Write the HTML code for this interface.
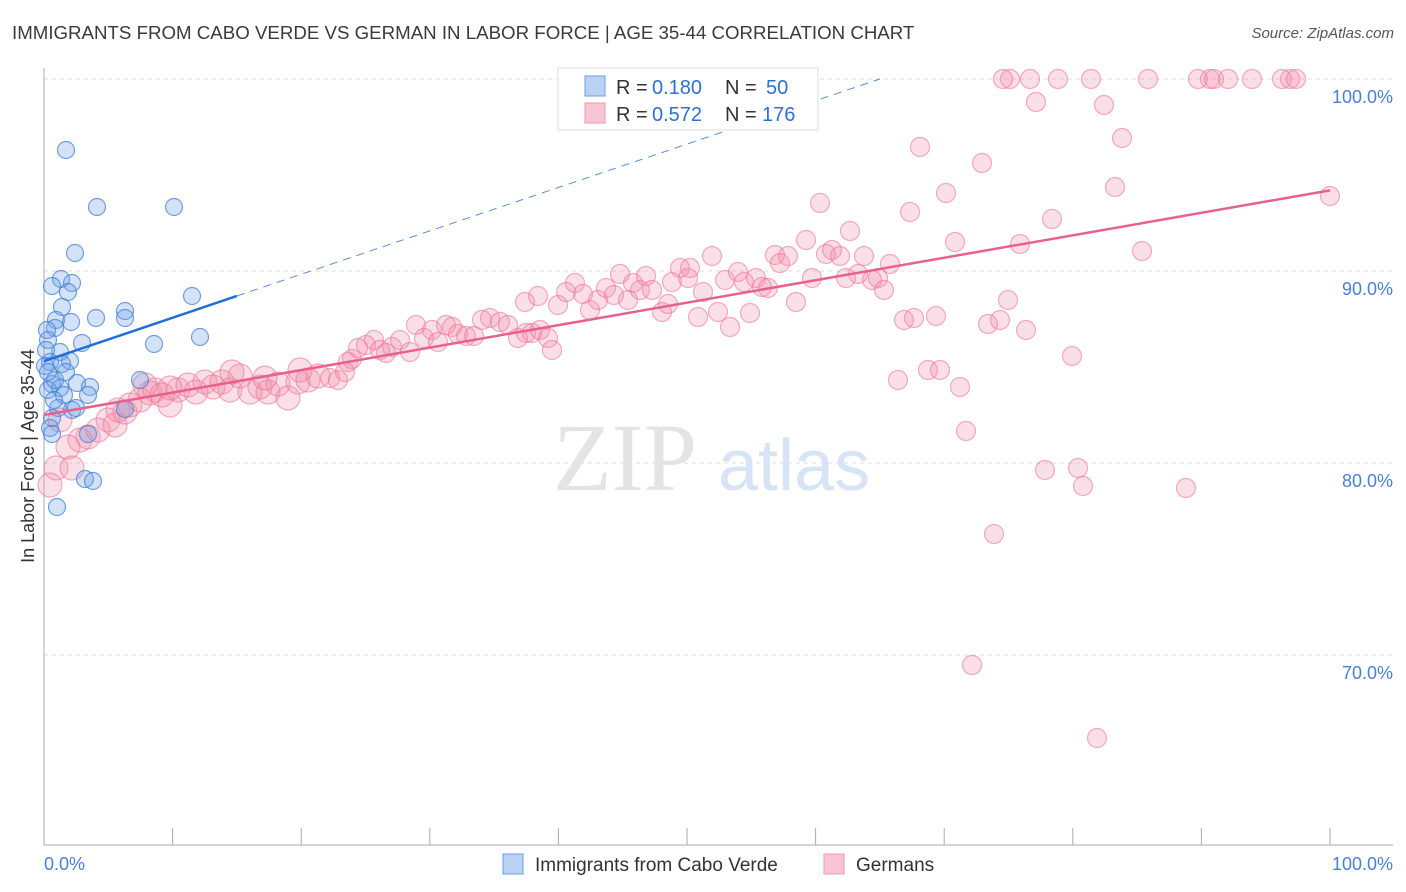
<!DOCTYPE html>
<html><head><meta charset="utf-8"><style>
body{margin:0;background:#fff;font-family:"Liberation Sans",sans-serif}
#wrap{position:relative;width:1406px;height:892px;overflow:hidden}
.t{position:absolute;white-space:nowrap}
</style></head><body>
<div id="wrap">
<div class="t" style="left:12px;top:22px;font-size:18.7px;color:#3a3a3a">IMMIGRANTS FROM CABO VERDE VS GERMAN IN LABOR FORCE | AGE 35-44 CORRELATION CHART</div>
<div class="t" style="right:12px;top:25px;font-size:15px;color:#555;font-style:italic">Source: ZipAtlas.com</div>
<svg id="svg" width="1406" height="892" style="position:absolute;left:0;top:0"></svg>
</div>
<script>
const xTickLabels=["0.0%","100.0%"];
const yTicks=[100,90,80,70];
const yTickLabels=["100.0%","90.0%","80.0%","70.0%"];
const blueR=0.180, blueN=50, pinkR=0.572, pinkN=176;
const bluePx=[[66,150],[97,207],[174,207],[75,253],[61,279],[72,283],[52,286],[68,292],[192,296],[62,307],[125,311],[96,318],[125,318],[56,320],[71,322],[55,328],[82,343],[154,344],[200,337],[48,340],[60,352],[50,362],[70,361],[62,364],[45,366],[140,380],[52,384],[60,388],[77,383],[90,387],[48,390],[72,410],[58,408],[76,408],[125,409],[52,418],[50,428],[52,434],[88,434],[85,479],[93,481],[57,507],[46,350],[55,380],[64,395],[48,372],[88,395],[66,372],[54,400],[47,330]];
const pinkPx=[[50,485],[56,468],[72,468],[68,447],[80,440],[88,437],[98,430],[108,420],[115,425],[125,412],[130,405],[140,400],[150,393],[155,390],[162,395],[170,405],[178,390],[188,385],[196,392],[205,382],[213,387],[222,382],[230,390],[240,376],[250,392],[260,387],[268,392],[278,384],[288,398],[298,382],[308,380],[318,376],[330,378],[338,380],[348,362],[352,359],[358,348],[366,345],[374,340],[380,350],[386,353],[392,347],[400,340],[410,352],[416,325],[424,338],[432,330],[438,342],[446,325],[452,327],[458,334],[466,336],[474,336],[482,320],[490,318],[500,322],[508,325],[518,338],[526,333],[532,333],[540,330],[548,338],[552,350],[525,302],[538,296],[558,305],[566,292],[575,283],[583,294],[590,310],[598,300],[606,288],[614,295],[620,274],[628,300],[633,283],[640,290],[646,276],[652,290],[662,312],[668,304],[672,282],[680,268],[688,278],[690,268],[698,317],[703,292],[712,256],[718,312],[725,280],[730,327],[738,272],[744,282],[750,313],[756,278],[762,287],[768,288],[775,255],[780,263],[788,256],[796,302],[806,240],[812,278],[820,203],[826,254],[832,250],[840,256],[846,278],[850,231],[858,274],[864,256],[872,280],[878,278],[884,290],[890,264],[898,380],[904,320],[910,212],[914,318],[920,147],[928,370],[936,316],[940,370],[946,193],[955,242],[960,387],[966,431],[972,665],[982,163],[988,324],[994,534],[1000,320],[1008,300],[1010,79],[1020,244],[1026,330],[1030,79],[1036,102],[1045,470],[1052,219],[1058,79],[1072,356],[1078,468],[1083,486],[1091,79],[1097,738],[1104,105],[1115,187],[1122,138],[1142,251],[1148,79],[1186,488],[1198,79],[1210,79],[1214,79],[1228,79],[1252,79],[1282,79],[1290,79],[1296,79],[1330,196],[1003,79],[60,420],[118,410],[145,385],[170,388],[232,372],[265,378],[300,370],[345,372]];
const X0=44,X1=1330,Y100=79,PXY=19.2;
const toX=p=>(p-X0)/(X1-X0)*100, toY=p=>100-(p-Y100)/PXY;
const blueX=bluePx.map(d=>toX(d[0])), blueY=bluePx.map(d=>toY(d[1]));
const pinkX=pinkPx.map(d=>toX(d[0])), pinkY=pinkPx.map(d=>toY(d[1]));
const blueTrend=[[0,85.3],[15,88.7]], blueDash=[[15,88.7],[65,100]];
const pinkTrend=[[0,82.5],[100,94.2]];
const sx=v=>X0+v/100*(X1-X0), sy=v=>Y100+(100-v)*PXY;
const svg=document.getElementById('svg');const NS='http://www.w3.org/2000/svg';
function mk(t,a,p){const e=document.createElementNS(NS,t);for(const k in a)e.setAttribute(k,a[k]);(p||svg).appendChild(e);return e;}
yTicks.forEach((v,i)=>{const g=mk('line',{x1:44,x2:1393,y1:sy(v),y2:sy(v),stroke:'#ddd','stroke-dasharray':'4,4'});


const t=mk('text',{x:1393,y:sy(v)+24,'text-anchor':'end','font-size':18,fill:'#4a7fd4','font-family':'Liberation Sans'});t.textContent=yTickLabels[i];

});
mk('line',{x1:44,x2:44,y1:68,y2:845,stroke:'#aaa'});
mk('line',{x1:44,x2:1393,y1:845,y2:845,stroke:'#aaa'});
for(let i=0;i<=10;i++){const l=mk('line',{x1:sx(i*10),x2:sx(i*10),y1:828,y2:845,stroke:'#aaa'});

}
[[0,'start',44],[1,'end',1393]].forEach(([i,a,x])=>{const t=mk('text',{x:x,y:870,'text-anchor':a,'font-size':18,fill:'#4a7fd4','font-family':'Liberation Sans'});t.textContent=xTickLabels[i];

});
const yt=mk('text',{x:34,y:456,'text-anchor':'middle','font-size':18,fill:'#333',transform:'rotate(-90 34 456)','font-family':'Liberation Sans'});yt.textContent='In Labor Force | Age 35-44';


const w1=mk('text',{x:553,y:490,'font-size':96,fill:'#e4e4e4','font-family':'Liberation Serif'});w1.textContent='ZIP';


const w2=mk('text',{x:718,y:490,'font-size':72,fill:'#d6e4f5','font-family':'Liberation Sans'});w2.textContent='atlas';


pinkX.forEach((x,i)=>{const c=mk('circle',{cx:sx(x),cy:sy(pinkY[i]),r:x<22?12:9.5,fill:'rgba(242,140,168,0.28)',stroke:'rgba(236,120,155,0.6)','stroke-width':1.2});

});
blueX.forEach((x,i)=>{const c=mk('circle',{cx:sx(x),cy:sy(blueY[i]),r:8.5,fill:'rgba(110,160,230,0.3)',stroke:'rgba(70,130,215,0.75)','stroke-width':1.2});

});
const bl=mk('line',{x1:sx(blueTrend[0][0]),y1:sy(blueTrend[0][1]),x2:sx(blueTrend[1][0]),y2:sy(blueTrend[1][1]),stroke:'#1f6fd6','stroke-width':2.5});


const bd=mk('line',{x1:sx(blueDash[0][0]),y1:sy(blueDash[0][1]),x2:sx(blueDash[1][0]),y2:sy(blueDash[1][1]),stroke:'#5b8fd8','stroke-width':1,'stroke-dasharray':'8,6'});


const pl=mk('line',{x1:sx(pinkTrend[0][0]),y1:sy(pinkTrend[0][1]),x2:sx(pinkTrend[1][0]),y2:sy(pinkTrend[1][1]),stroke:'#e8608f','stroke-width':2.5});


const lg=mk('g',{});


mk('rect',{x:558,y:68,width:260,height:62,fill:'#fff',stroke:'#ddd'},lg);
mk('rect',{x:585,y:76,width:20,height:20,fill:'#b9d1f3',stroke:'#6b9ee6'},lg);
mk('rect',{x:585,y:103,width:20,height:20,fill:'#f9c5d5',stroke:'#ef99b4'},lg);
[[blueR,blueN,94],[pinkR,pinkN,121]].forEach(([r,n,y])=>{
const parts=[[616,'R =','#333'],[652,r.toFixed(3),'#2f6fd0'],[725,'N =','#333'],[n>99?762:766,String(n),'#2f6fd0']];
parts.forEach(([x,s,c])=>{const t=mk('text',{x:x,y:y,'font-size':20,fill:c,'font-family':'Liberation Sans'},lg);t.textContent=s;

});});
mk('rect',{x:503,y:854,width:20,height:20,fill:'#b9d1f3',stroke:'#6b9ee6'});
const b1=mk('text',{x:535,y:871,'font-size':19,fill:'#333','font-family':'Liberation Sans'});b1.textContent='Immigrants from Cabo Verde';


mk('rect',{x:824,y:854,width:20,height:20,fill:'#f9c5d5',stroke:'#ef99b4'});
const b2=mk('text',{x:856,y:871,'font-size':19,fill:'#333','font-family':'Liberation Sans'});b2.textContent='Germans';


</script>
</body></html>
